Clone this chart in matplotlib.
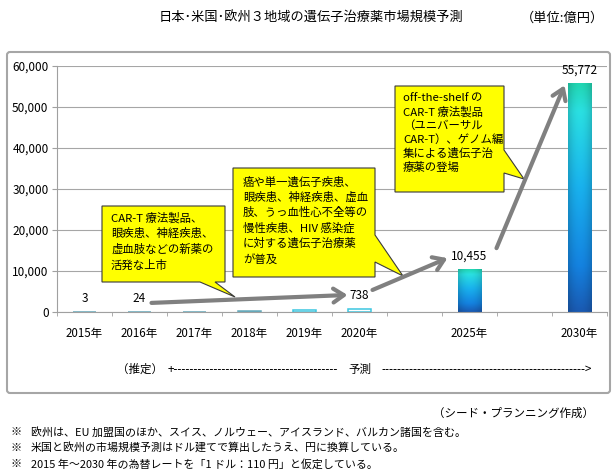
import numpy as np
import matplotlib
matplotlib.use("Agg")
import matplotlib.pyplot as plt
from matplotlib.patches import Polygon, FancyBboxPatch
from matplotlib.colors import LinearSegmentedColormap
from matplotlib.transforms import Affine2D, offset_copy

plt.rcParams['font.family'] = ['Noto Sans CJK JP', 'DejaVu Sans']

# ---------------- data ----------------
years = ["2015年", "2016年", "2017年", "2018年", "2019年", "2020年", "", "2025年", "", "2030年"]
values = [3, 24, 60, 150, 400, 738, None, 10455, None, 55772]
value_labels = ["3", "24", "", "", "", "738", "", "10,455", "", "55,772"]
yticks = [0, 10000, 20000, 30000, 40000, 50000, 60000]
ytick_labels = ["0", "10,000", "20,000", "30,000", "40,000", "50,000", "60,000"]

title = "日本･米国･欧州３地域の遺伝子治療薬市場規模予測"
unit = "（単位:億円）"
callout1 = ["CAR-T 療法製品、", "眼疾患、神経疾患、", "虚血肢などの新薬の", "活発な上市"]
callout2 = ["癌や単一遺伝子疾患、", "眼疾患、神経疾患、虚血", "肢、うっ血性心不全等の",
            "慢性疾患、HIV 感染症", "に対する遺伝子治療薬", "が普及"]
callout3 = ["off-the-shelf の", "CAR-T 療法製品", "（ユニバーサル",
            "CAR-T）、ゲノム編", "集による遺伝子治", "療薬の登場"]
estimate_label = "（推定）"
forecast_label = "予測"
source = "（シード・プランニング作成）"
notes = ["欧州は、EU 加盟国のほか、スイス、ノルウェー、アイスランド、バルカン諸国を含む。",
         "米国と欧州の市場規模予測はドル建てで算出したうえ、円に換算している。",
         "2015 年～2030 年の為替レートを「1 ドル：110 円」と仮定している。"]

# ---------------- figure ----------------
W, H = 616, 470
fig = plt.figure(figsize=(W / 100, H / 100), dpi=100)
fig.patch.set_facecolor("white")
PIX = Affine2D().scale(1, -1).translate(0, H)   # pixel coords from top-left

ax = fig.add_axes([57 / W, 1 - 312 / H, (607 - 57) / W, (312 - 66) / H])
ax.set_facecolor("none")

n = len(years)
x = np.arange(n)
bw = 0.42

# gradient image
cmap = LinearSegmentedColormap.from_list("g", [
    (0.0, "#22d6b2"), (0.12, "#2ae0e2"), (0.45, "#19b2ee"),
    (0.8, "#1482e0"), (1.0, "#1a5ab2")])
rows = np.linspace(0, 1, 200)
col = cmap(rows)[:, :3]
t = np.linspace(-1, 1, 40)
shade = 1 - 0.16 * t ** 2
grad = col[:, None, :] * shade[None, :, None]

for i, v in enumerate(values):
    if v is None:
        continue
    if v < 300:
        ec = "#64a9bb"
    elif v < 1000:
        ec = "#3cc6e0"
    else:
        ec = "none"
    b = ax.bar(x[i], v, width=bw, color="none", edgecolor=ec, linewidth=1.1, zorder=2)[0]
    if v >= 1000:
        im = ax.imshow(grad, extent=(x[i] - bw / 2, x[i] + bw / 2, 0, v),
                       aspect="auto", origin="upper", zorder=2, interpolation="bilinear")
        im.set_clip_path(b)

ax.set_xlim(-0.5, n - 0.5)
ax.set_ylim(0, 60000)
ax.set_aspect("auto")

ax.set_yticks(yticks)
ax.set_yticklabels(ytick_labels, fontsize=8.5)
ax.set_xticks(x)
ax.set_xticklabels(years, fontsize=8.3)
ax.set_xticks(np.arange(-0.5, n, 1), minor=True)
ax.tick_params(axis="x", which="major", length=0, pad=11)
ax.tick_params(axis="x", which="minor", length=3, color="#a0a0a0", direction="out")
ax.tick_params(axis="y", length=3.6, color="#a0a0a0", pad=2.5)
ax.yaxis.grid(True, color="#a6a6a6", linewidth=0.8)
ax.set_axisbelow(True)
for s in ["top", "right"]:
    ax.spines[s].set_visible(False)
for s in ["left", "bottom"]:
    ax.spines[s].set_color("#a0a0a0")
    ax.spines[s].set_linewidth(0.8)

# value labels
for i, (v, lab) in enumerate(zip(values, value_labels)):
    if v is None or not lab:
        continue
    ax.annotate(lab, (x[i], v), xytext=(0, 5), textcoords="offset points",
                ha="center", va="bottom", fontsize=8.5, zorder=6)

# arrows between value labels
def oc(dx, dy):
    return offset_copy(ax.transData, fig=fig, x=dx, y=dy, units="dots")

arrow_specs = [(1, 5, (12, 9), (-12, 14)),
               (5, 7, (13, 19), (-22, 11)),
               (7, 9, (27, 21), (-15, -2))]
for a, b_, off_a, off_b in arrow_specs:
    ax.annotate("", xy=(x[b_], values[b_]), xycoords=oc(*off_b),
                xytext=(x[a], values[a]), textcoords=oc(*off_a),
                arrowprops=dict(arrowstyle="->,head_length=0.75,head_width=0.5",
                                lw=3, color="#808080", shrinkA=0, shrinkB=0,
                                mutation_scale=10),
                annotation_clip=False, zorder=5)

# callouts
boxes = [
    ([(102, 206), (225, 206), (225, 282), (215, 282), (235, 297), (200, 282), (102, 282)],
     callout1, 111, 218, 15.6),
    ([(233, 168), (375, 168), (375, 235), (403, 276), (375, 262), (375, 277), (233, 277)],
     callout2, 243, 182, 15.4),
    ([(395, 86), (504, 86), (504, 150), (524, 179), (504, 173), (504, 192), (395, 192)],
     callout3, 403, 98, 13.8),
]
for pts, lines, tx, ty, dy in boxes:
    ax.add_patch(Polygon(pts, closed=True, transform=PIX, facecolor="#ffff00",
                         edgecolor="#3a3a3a", linewidth=0.8, zorder=3, clip_on=False))
    for k, ln in enumerate(lines):
        ax.text(tx, ty + k * dy, ln, transform=PIX, ha="left", va="center",
                fontsize=8.2, zorder=6, clip_on=False)

# outer frame
frame = FancyBboxPatch((7, 52), 603, 341, boxstyle="round,pad=0,rounding_size=3",
                       transform=PIX, facecolor="none", edgecolor="#a6a6a6",
                       linewidth=1.5)
fig.patches.append(frame)

# titles
fig.text(311, 18, title, transform=PIX, ha="center", va="center", fontsize=9.5)
fig.text(604, 18, unit, transform=PIX, ha="right", va="center", fontsize=9.5)

# estimate / forecast row
fig.text(117, 369, estimate_label, transform=PIX, ha="left", va="center", fontsize=8.3)
fig.text(168, 369, "+" + "-" * 41, transform=PIX, ha="left", va="center", fontsize=8.3)
fig.text(348, 369, forecast_label, transform=PIX, ha="left", va="center", fontsize=8.3)
fig.text(381, 369, "-" * 51 + ">", transform=PIX, ha="left", va="center", fontsize=8.3)

# source & notes
fig.text(594, 413, source, transform=PIX, ha="right", va="center", fontsize=8.3)
for k, nt in enumerate(notes):
    yy = 432 + k * 16
    fig.text(10, yy, "※", transform=PIX, ha="left", va="center", fontsize=8)
    fig.text(31, yy, nt, transform=PIX, ha="left", va="center", fontsize=7.9)

fig.savefig("out.png", dpi=100)
